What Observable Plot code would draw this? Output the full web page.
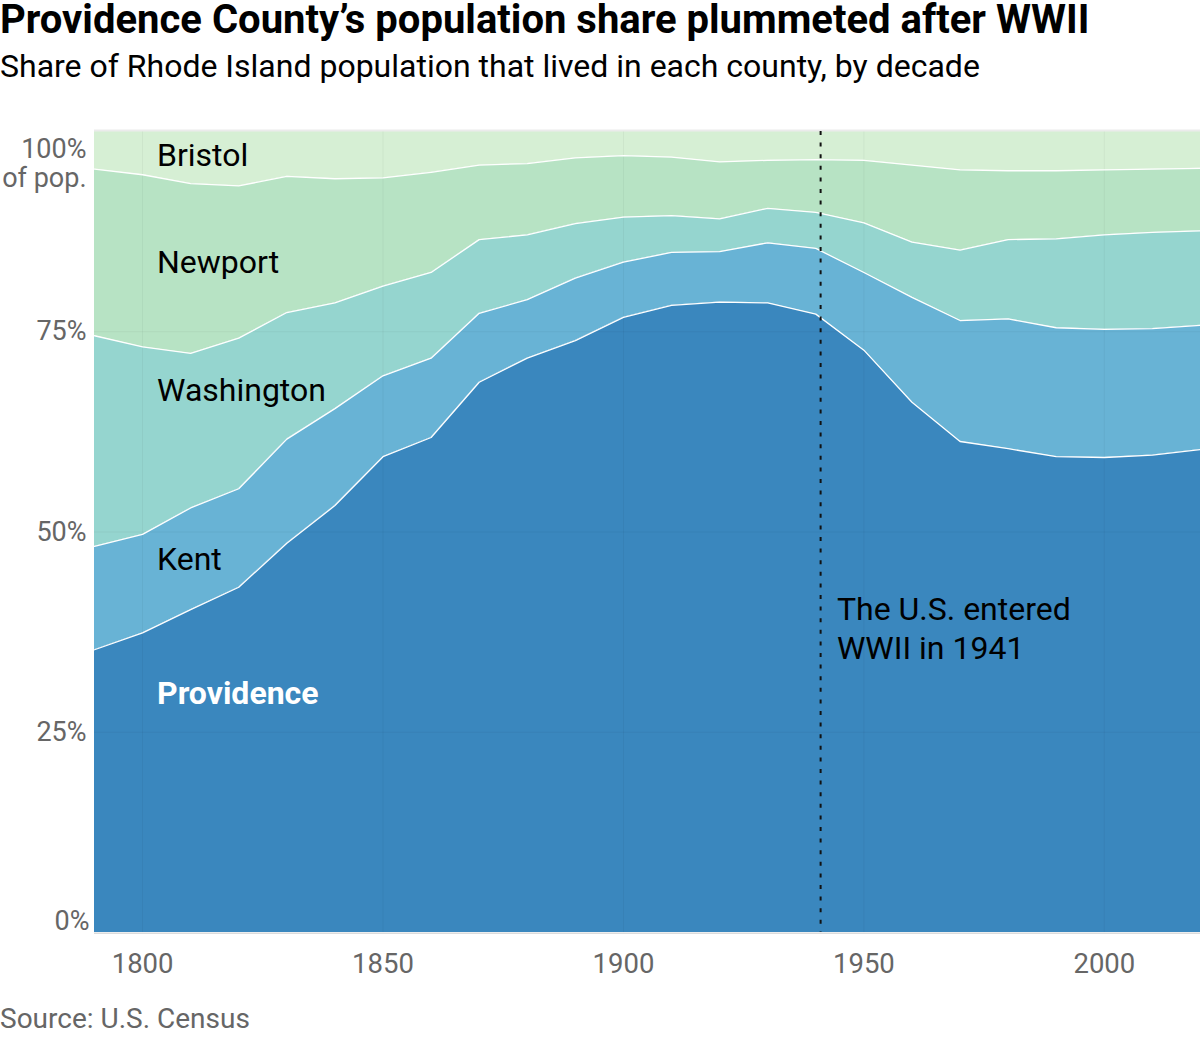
<!DOCTYPE html>
<html><head><meta charset="utf-8">
<script src="https://cdn.jsdelivr.net/npm/d3@7"></script>
<script src="https://cdn.jsdelivr.net/npm/@observablehq/plot@0.6"></script>
<style>
body{margin:0;background:#fff;font-family:Roboto,sans-serif;}
#wrap{position:relative;width:1200px;height:1040px;overflow:hidden}
#title{position:absolute;left:0;top:0px;font-size:40px;line-height:40px;font-weight:700;color:#000;white-space:nowrap}
#subtitle{position:absolute;left:0;top:50px;font-size:32px;line-height:32px;color:#000;white-space:nowrap}
#chart{position:absolute;left:0;top:100px}
#source{position:absolute;left:0;top:1005px;font-size:28px;line-height:28px;color:#666;white-space:nowrap}
</style></head><body>
<div id="wrap">
<div id="title">Providence County’s population share plummeted after WWII</div>
<div id="subtitle">Share of Rhode Island population that lived in each county, by decade</div>
<div id="chart"></div>
<div id="source">Source: U.S. Census</div>
</div>
<script>
const years = [1790,1800,1810,1820,1830,1840,1850,1860,1870,1880,1890,1900,1910,1920,1930,1940,1950,1960,1970,1980,1990,2000,2010,2020];
const counties = ["Providence","Kent","Washington","Newport","Bristol"];
const providence = [35.3,37.4,40.3,43.1,48.6,53.3,59.4,61.8,68.7,71.7,73.9,76.8,78.3,78.7,78.6,77.2,72.7,66.2,61.3,60.4,59.4,59.3,59.6,60.3];
const kent       = [12.9,12.3,12.7,12.3,13.0,12.1,10.1,9.9,8.6,7.3,7.8,6.9,6.6,6.3,7.5,8.2,9.7,13.1,15.1,16.2,16.1,16.0,15.8,15.5];
const washington = [26.3,23.4,19.3,18.8,15.8,13.2,11.2,10.7,9.2,8.1,6.8,5.6,4.6,4.1,4.3,4.5,6.2,6.9,8.8,9.9,11.1,11.8,12.0,11.8];
const newport    = [20.8,21.5,21.2,19.0,17.0,15.5,13.5,12.5,9.3,8.9,8.2,7.7,7.3,7.1,6.0,6.6,7.8,9.6,10.0,8.6,8.5,8.1,7.9,7.8];
const bristol    = [4.7,5.4,6.5,6.8,5.6,5.9,5.8,5.1,4.2,4.0,3.3,3.0,3.2,3.8,3.6,3.5,3.6,4.2,4.8,4.9,4.9,4.8,4.7,4.6];
const colors = ["#3a87be","#68b3d5","#95d5cf","#b7e3c4","#d6efd4"];
const xTicks = [1800,1850,1900,1950,2000];
const yTicks = [0,25,50,75,100];
const yTickLabels = ["0%","25%","50%","75%","100%\nof pop."];
const labelNames = ["Bristol","Newport","Washington","Kent","Providence"];
const labelYear = [1803,1803,1803,1803,1803];
const labelShare = [98.5,85.2,69.2,48.1,31.4];
const warYear = 1941;
const noteText = "The U.S. entered\nWWII in 1941";
const noteYear = 1944.4;
const noteShare = 42.5;

const series = [providence,kent,washington,newport,bristol];
const data = [];
counties.forEach((c,i)=>years.forEach((y,j)=>data.push({county:c,year:y,share:series[i][j]})));
const labels = labelNames.map((n,i)=>({name:n,year:labelYear[i],share:labelShare[i]}));
const tickData = yTicks.map((v,i)=>({v,label:yTickLabels[i]}));

const plot = Plot.plot({
  width:1200, height:890,
  marginTop:31, marginBottom:58, marginLeft:94, marginRight:0,
  style:{fontFamily:"Roboto, sans-serif", background:"transparent"},
  x:{domain:[1790,2020]},
  y:{domain:[0,100], axis:null},
  color:{domain:counties, range:colors},
  marks:[
    Plot.areaY(data,{x:"year",y:"share",z:"county",fill:"county",order:counties}),
    Plot.gridX(xTicks,{stroke:"#000",strokeOpacity:0.045}),
    Plot.gridY([25,50,75],{stroke:"#000",strokeOpacity:0.045}),
    Plot.lineY(data, Plot.filter(d=>d.county!=="Bristol", Plot.stackY2({x:"year",y:"share",z:"county",order:counties,stroke:"white",strokeWidth:1.3}))),
    Plot.ruleY([100],{stroke:"#ebebeb",strokeWidth:2,dy:-1}),
    Plot.ruleY([0],{stroke:"#dcdcdc",strokeWidth:1.5,dy:0.8}),
    Plot.ruleX([warYear],{stroke:"#111",strokeWidth:2,strokeDasharray:"4,7.6"}),
    Plot.text(labels.filter(d=>d.name!=="Providence"),{x:"year",y:"share",text:"name",textAnchor:"start",lineAnchor:"top",fontSize:32,fill:"black"}),
    Plot.text(labels.filter(d=>d.name==="Providence"),{x:"year",y:"share",text:"name",textAnchor:"start",lineAnchor:"top",fontSize:32,fontWeight:700,fill:"white"}),
    Plot.text([noteText],{x:()=>noteYear,y:()=>noteShare,text:d=>d,textAnchor:"start",lineAnchor:"top",fontSize:32,lineHeight:1.22,fill:"black"}),
    Plot.axisX({ticks:xTicks,tickSize:0,tickPadding:21,fontSize:27.5,color:"#666",label:null,tickFormat:d=>String(d)}),
    Plot.text(tickData.filter(d=>d.v>0&&d.v<100),{y:"v",text:"label",frameAnchor:"left",dx:-8,textAnchor:"end",fontSize:27,fill:"#666"}),
    Plot.text(tickData.filter(d=>d.v===0),{y:"v",text:"label",frameAnchor:"left",dx:-5,dy:-11.6,textAnchor:"end",fontSize:27,fill:"#666"}),
    Plot.text(tickData.filter(d=>d.v===100),{y:"v",text:"label",frameAnchor:"left",dx:-8,dy:5,lineAnchor:"top",lineHeight:1.1,textAnchor:"end",fontSize:27,fill:"#666"})
  ]
});
document.getElementById("chart").appendChild(plot);
</script>
</body></html>
